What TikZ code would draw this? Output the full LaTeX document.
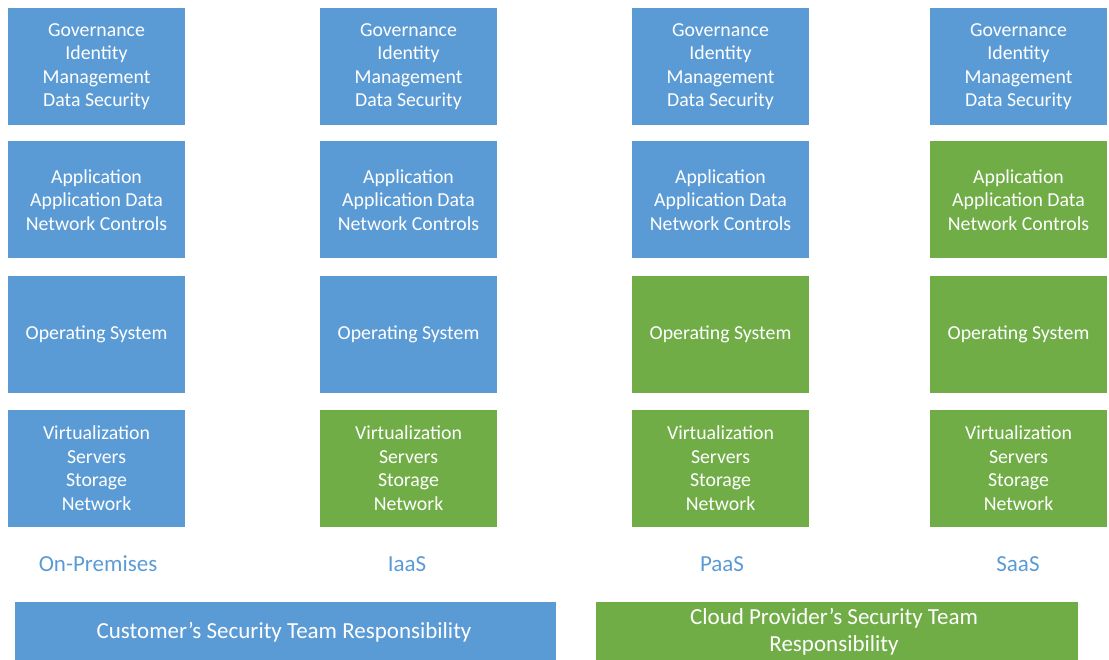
\documentclass[tikz,border=0pt]{standalone}
\usepackage{fontspec}
\setmainfont{Carlito}
\definecolor{cblue}{HTML}{5B9BD5}
\definecolor{cgreen}{HTML}{70AD47}
\begin{document}
\begin{tikzpicture}[x=1pt,y=-1pt,
  tile/.style={minimum width=177pt,minimum height=117pt,inner sep=0pt,
    text=white,align=center,font=\fontsize{19.8}{23.5}\selectfont},
  bluetile/.style={tile,fill=cblue},
  greentile/.style={tile,fill=cgreen},
  lab/.style={text=cblue,font=\fontsize{23}{26}\selectfont},
  band/.style={inner sep=0pt,text=white,align=center,font=\fontsize{23}{27}\selectfont}]
\useasboundingbox (0,0) rectangle (1109,660);
\def\ta{Governance\\Identity\\Management\\Data Security}
\def\tb{Application\\Application Data\\Network Controls}
\def\tc{Operating System}
\def\td{Virtualization\\Servers\\Storage\\Network}
% column 1
\node[bluetile] (a1) at (96.5,66.5) {\ta};
\node[bluetile] (b1) at (96.5,200) {\tb};
\node[bluetile] (c1) at (96.5,334.5) {\tc};
\node[bluetile] (d1) at (96.5,468) {\td};
% column 2
\node[bluetile] (a2) at (408.5,66.5) {\ta};
\node[bluetile] (b2) at (408.5,200) {\tb};
\node[bluetile] (c2) at (408.5,334.5) {\tc};
\node[greentile] (d2) at (408.5,468) {\td};
% column 3
\node[bluetile] (a3) at (720.5,66.5) {\ta};
\node[bluetile] (b3) at (720.5,200) {\tb};
\node[greentile] (c3) at (720.5,334.5) {\tc};
\node[greentile] (d3) at (720.5,468) {\td};
% column 4
\node[bluetile] (a4) at (1018.5,66.5) {\ta};
\node[greentile] (b4) at (1018.5,200) {\tb};
\node[greentile] (c4) at (1018.5,334.5) {\tc};
\node[greentile] (d4) at (1018.5,468) {\td};
% labels
\node[lab] (l1) at (98,564) {On-Premises};
\node[lab] (l2) at (407,564) {IaaS};
\node[lab] (l3) at (722,564) {PaaS};
\node[lab] (l4) at (1018,564) {SaaS};
% bands
\fill[cblue] (15,602) rectangle (556,662);
\fill[cgreen] (596,602) rectangle (1078,662);
\node[band] (cust) at (284,632) {Customer’s Security Team Responsibility};
\node[band] (prov) at (834,632) {Cloud Provider’s Security Team\\Responsibility};
\end{tikzpicture}
\end{document}
